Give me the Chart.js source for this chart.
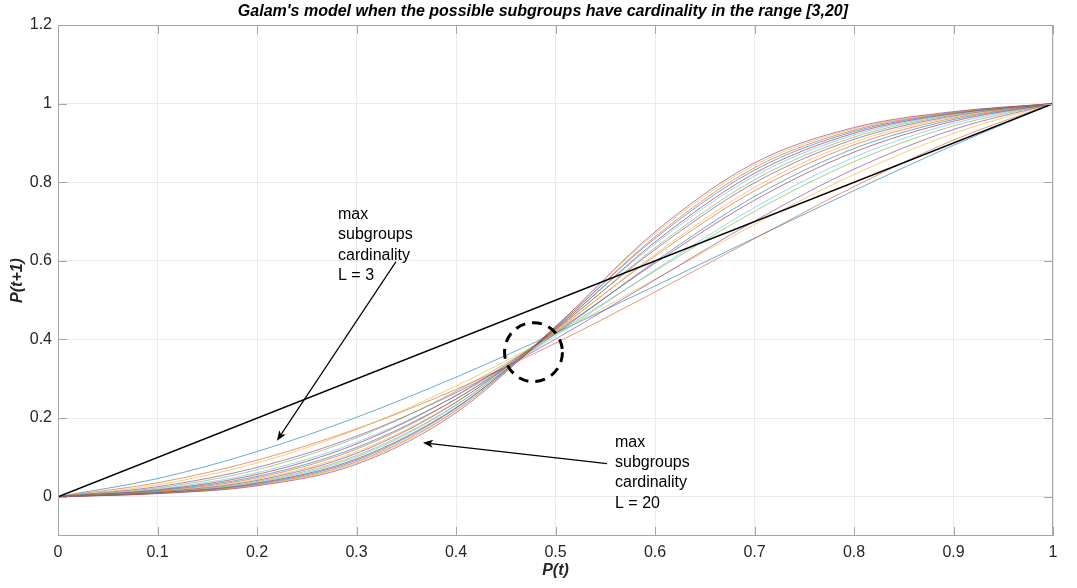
<!DOCTYPE html>
<html>
<head>
<meta charset="utf-8">
<script src="https://cdn.jsdelivr.net/npm/chart.js@4.4.1/dist/chart.umd.min.js"></script>
<style>
  html, body { margin: 0; padding: 0; background: #ffffff; }
  #wrap { width: 1077px; height: 588px; }
</style>
</head>
<body>
<div id="wrap"><canvas id="c" width="1077" height="588"></canvas></div>
<script>
// ---- data ----
const xValues = [0, 0.1, 0.2, 0.3, 0.4, 0.5, 0.6, 0.7, 0.8, 0.9, 1];
const curveL3  = [0, 0.0460, 0.1147, 0.2020, 0.3040, 0.4167, 0.5360, 0.6580, 0.7787, 0.8940, 1];
const curveL4  = [0, 0.0354, 0.0928, 0.1724, 0.2728, 0.3906, 0.5208, 0.6564, 0.7888, 0.9074, 1];
const curveL5  = [0, 0.0301, 0.0858, 0.1706, 0.2817, 0.4125, 0.5532, 0.6925, 0.8195, 0.9242, 1];
const curveL6  = [0, 0.0253, 0.0744, 0.1539, 0.2646, 0.4010, 0.5517, 0.7012, 0.8331, 0.9342, 1];
const curveL7  = [0, 0.0220, 0.0685, 0.1499, 0.2682, 0.4152, 0.5743, 0.7258, 0.8522, 0.9432, 1];
const curveL8  = [0, 0.0193, 0.0612, 0.1384, 0.2564, 0.4087, 0.5768, 0.7358, 0.8636, 0.9497, 1];
const curveL9  = [0, 0.0173, 0.0566, 0.1340, 0.2575, 0.4188, 0.5942, 0.7542, 0.8766, 0.9552, 1];
const curveL10 = [0, 0.0156, 0.0516, 0.1253, 0.2484, 0.4146, 0.5981, 0.7638, 0.8856, 0.9595, 1];
const curveL11 = [0, 0.0142, 0.0480, 0.1211, 0.2482, 0.4224, 0.6122, 0.7781, 0.8950, 0.9632, 1];
const curveL12 = [0, 0.0130, 0.0443, 0.1142, 0.2407, 0.4195, 0.6166, 0.7868, 0.9021, 0.9662, 1];
const curveL13 = [0, 0.0120, 0.0414, 0.1102, 0.2398, 0.4257, 0.6285, 0.7984, 0.9091, 0.9688, 1];
const curveL14 = [0, 0.0112, 0.0386, 0.1046, 0.2334, 0.4235, 0.6331, 0.8061, 0.9148, 0.9710, 1];
const curveL15 = [0, 0.0104, 0.0363, 0.1009, 0.2321, 0.4286, 0.6433, 0.8157, 0.9202, 0.9729, 1];
const curveL16 = [0, 0.0098, 0.0342, 0.0962, 0.2265, 0.4269, 0.6479, 0.8226, 0.9247, 0.9746, 1];
const curveL17 = [0, 0.0092, 0.0323, 0.0929, 0.2248, 0.4312, 0.6569, 0.8307, 0.9290, 0.9761, 1];
const curveL18 = [0, 0.0087, 0.0306, 0.0889, 0.2198, 0.4299, 0.6613, 0.8368, 0.9327, 0.9774, 1];
const curveL19 = [0, 0.0082, 0.0290, 0.0860, 0.2181, 0.4336, 0.6694, 0.8436, 0.9362, 0.9786, 1];
const curveL20 = [0, 0.0078, 0.0276, 0.0825, 0.2135, 0.4325, 0.6737, 0.8491, 0.9392, 0.9797, 1];
const curveSizes = [3, 4, 5, 6, 7, 8, 9, 10, 11, 12, 13, 14, 15, 16, 17, 18, 19, 20];
const curveValues = [curveL3, curveL4, curveL5, curveL6, curveL7, curveL8, curveL9, curveL10, curveL11,
                     curveL12, curveL13, curveL14, curveL15, curveL16, curveL17, curveL18, curveL19, curveL20];
const diagonalX = [0, 1];
const diagonalY = [0, 1];
const xTickValues = [0, 0.1, 0.2, 0.3, 0.4, 0.5, 0.6, 0.7, 0.8, 0.9, 1];
const xTickLabels = ['0', '0.1', '0.2', '0.3', '0.4', '0.5', '0.6', '0.7', '0.8', '0.9', '1'];
const yTickValues = [0, 0.2, 0.4, 0.6, 0.8, 1, 1.2];
const yTickLabels = ['0', '0.2', '0.4', '0.6', '0.8', '1', '1.2'];
const titleText = "Galam's model when the possible subgroups have cardinality in the range [3,20]";
const xTitle = 'P(t)';
const yTitle = 'P(t+1)';
const note1Lines = ['max', 'subgroups', 'cardinality', 'L = 3'];
const note2Lines = ['max', 'subgroups', 'cardinality', 'L = 20'];

// ---- styling / annotation placement (data units) ----
const palette = ['#0072BD', '#D95319', '#EDB120', '#7E2F8E', '#77AC30', '#4DBEEE', '#A2142F'];
const FONT = "'Liberation Sans', Arial, Helvetica, sans-serif";
const annot = {
  title: { x: 0.4874 },
  note1: { x: 0.2814, y: 0.7176 },
  arrow1: { from: [0.3397, 0.598], to: [0.2201, 0.1425] },
  note2: { x: 0.5598, y: 0.1374 },
  arrow2: { from: [0.5518, 0.084], to: [0.3668, 0.1374] },
  circle: { cx: 0.4779, cy: 0.3677, rx: 0.0291, ry: 0.075 }
};

function hexA(hex, a) {
  const n = parseInt(hex.slice(1), 16);
  return `rgba(${(n >> 16) & 255},${(n >> 8) & 255},${n & 255},${a})`;
}

const datasets = curveValues.map((vals, i) => ({
  label: 'L = ' + curveSizes[i],
  data: xValues.map((x, j) => ({ x: x, y: vals[j] })),
  borderColor: hexA(palette[i % palette.length], 0.6),
  borderWidth: 1,
  pointRadius: 0,
  fill: false,
  cubicInterpolationMode: 'monotone',
  order: 100 - curveSizes[i]
}));
datasets.push({
  label: 'y = x',
  data: diagonalX.map((x, j) => ({ x: x, y: diagonalY[j] })),
  borderColor: '#000000',
  borderWidth: 1.5,
  pointRadius: 0,
  fill: false,
  order: 0
});

function drawArrow(ctx, x1, y1, x2, y2) {
  ctx.save();
  ctx.strokeStyle = '#000'; ctx.fillStyle = '#000'; ctx.lineWidth = 1.2;
  const ang = Math.atan2(y2 - y1, x2 - x1);
  const L = 10, W = 4;
  const bx = x2 - Math.cos(ang) * L * 0.75, by = y2 - Math.sin(ang) * L * 0.75;
  ctx.beginPath(); ctx.moveTo(x1, y1); ctx.lineTo(bx, by); ctx.stroke();
  const px = x2 - Math.cos(ang) * L, py = y2 - Math.sin(ang) * L;
  const nx = -Math.sin(ang), ny = Math.cos(ang);
  ctx.beginPath();
  ctx.moveTo(x2, y2);
  ctx.lineTo(px + nx * W, py + ny * W);
  ctx.lineTo(bx, by);
  ctx.lineTo(px - nx * W, py - ny * W);
  ctx.closePath(); ctx.fill();
  ctx.restore();
}

const decor = {
  id: 'decor',
  afterDraw(chart) {
    const ctx = chart.ctx, a = chart.chartArea;
    const xs = chart.scales.x, ys = chart.scales.y;
    ctx.save();
    // box
    ctx.strokeStyle = '#a6a6a6'; ctx.lineWidth = 1;
    ctx.strokeRect(a.left + 0.5, a.top + 0.5, a.right - a.left - 1, a.bottom - a.top - 1);
    // inward ticks
    const tl = 9;
    ctx.beginPath();
    xTickValues.forEach(v => {
      const px = Math.round(xs.getPixelForValue(v)) + 0.5;
      ctx.moveTo(px, a.bottom); ctx.lineTo(px, a.bottom - tl);
      ctx.moveTo(px, a.top); ctx.lineTo(px, a.top + tl);
    });
    yTickValues.forEach(v => {
      const py = Math.round(ys.getPixelForValue(v)) + 0.5;
      ctx.moveTo(a.left, py); ctx.lineTo(a.left + tl, py);
      ctx.moveTo(a.right, py); ctx.lineTo(a.right - tl, py);
    });
    ctx.stroke();

    // title & axis titles
    ctx.fillStyle = '#000';
    ctx.font = 'italic bold 16px ' + FONT;
    ctx.textAlign = 'center'; ctx.textBaseline = 'middle';
    ctx.fillText(titleText, xs.getPixelForValue(annot.title.x), 12);
    ctx.fillStyle = '#262626';
    ctx.fillText(xTitle, (a.left + a.right) / 2, 571);
    ctx.save();
    ctx.translate(18, (a.top + a.bottom) / 2);
    ctx.rotate(-Math.PI / 2);
    ctx.fillText(yTitle, 0, 0);
    ctx.restore();

    // notes
    ctx.fillStyle = '#000';
    ctx.font = '16px ' + FONT;
    ctx.textAlign = 'left'; ctx.textBaseline = 'middle';
    const n1x = xs.getPixelForValue(annot.note1.x), n1y = ys.getPixelForValue(annot.note1.y);
    note1Lines.forEach((t, i) => ctx.fillText(t, n1x, n1y + i * 20.4));
    const n2x = xs.getPixelForValue(annot.note2.x), n2y = ys.getPixelForValue(annot.note2.y);
    note2Lines.forEach((t, i) => ctx.fillText(t, n2x, n2y + i * 20.2));

    drawArrow(ctx, xs.getPixelForValue(annot.arrow1.from[0]), ys.getPixelForValue(annot.arrow1.from[1]),
                   xs.getPixelForValue(annot.arrow1.to[0]), ys.getPixelForValue(annot.arrow1.to[1]));
    drawArrow(ctx, xs.getPixelForValue(annot.arrow2.from[0]), ys.getPixelForValue(annot.arrow2.from[1]),
                   xs.getPixelForValue(annot.arrow2.to[0]), ys.getPixelForValue(annot.arrow2.to[1]));

    // dashed circle
    const c = annot.circle;
    const cx = xs.getPixelForValue(c.cx), cy = ys.getPixelForValue(c.cy);
    const rx = xs.getPixelForValue(c.cx + c.rx) - cx, ry = cy - ys.getPixelForValue(c.cy + c.ry);
    ctx.strokeStyle = '#000'; ctx.lineWidth = 3; ctx.setLineDash([10, 7]);
    ctx.beginPath(); ctx.ellipse(cx, cy, rx, ry, 0, 0, Math.PI * 2); ctx.stroke();
    ctx.setLineDash([]);
    ctx.restore();
  }
};

new Chart(document.getElementById('c'), {
  type: 'line',
  data: { datasets: datasets },
  options: {
    responsive: false,
    animation: false,
    devicePixelRatio: 1,
    layout: { padding: { top: 25, right: 24, left: 0, bottom: 0 } },
    plugins: { legend: { display: false }, tooltip: { enabled: false }, title: { display: false } },
    elements: { point: { radius: 0 } },
    scales: {
      x: {
        type: 'linear', min: 0, max: 1,
        afterFit(s) { s.height = 52; },
        afterBuildTicks(s) { s.ticks = xTickValues.map(v => ({ value: v })); },
        ticks: {
          padding: 7, color: '#262626', font: { family: FONT, size: 16 },
          maxRotation: 0, autoSkip: false,
          callback: (v) => { const i = xTickValues.indexOf(v); return i >= 0 ? xTickLabels[i] : ''; }
        },
        grid: { color: '#ebebeb', drawTicks: false },
        border: { display: false }
      },
      y: {
        type: 'linear', min: -0.1, max: 1.2,
        afterFit(s) { s.width = 58; },
        afterBuildTicks(s) { s.ticks = yTickValues.map(v => ({ value: v })); },
        ticks: {
          padding: 6, color: '#262626', font: { family: FONT, size: 16 }, autoSkip: false,
          callback: (v) => { const i = yTickValues.indexOf(v); return i >= 0 ? yTickLabels[i] : ''; }
        },
        grid: { color: '#ebebeb', drawTicks: false },
        border: { display: false }
      }
    }
  },
  plugins: [decor]
});
</script>
</body>
</html>
